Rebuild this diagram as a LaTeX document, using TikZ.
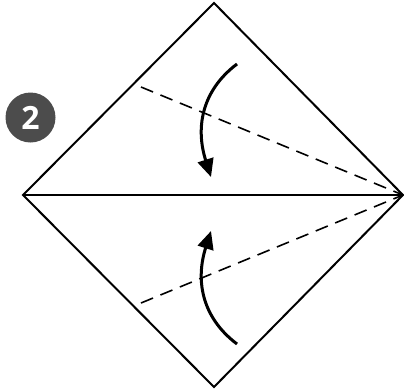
\documentclass[tikz,border=0pt]{standalone}
\usepackage{fontspec}
\setmainfont{Open Sans}
\usetikzlibrary{arrows.meta}
\begin{document}
\begin{tikzpicture}[x=1pt,y=-1pt,
  edge/.style={line width=2pt,line join=miter},
  foldline/.style={line width=1.6pt,dash pattern=on 13pt off 8pt},
  foldarrow/.style={line width=3pt,-{Triangle[length=18pt,width=16pt]}},
  badge/.style={circle,fill=black!70,minimum size=50pt,inner sep=0pt,text=white,font=\fontsize{32}{32}\selectfont\bfseries}]
\useasboundingbox (0,0) rectangle (404,391);
\coordinate (T) at (214,3);
\coordinate (L) at (23,195);
\coordinate (R) at (403,195);
\coordinate (B) at (214,387);
\coordinate (d1) at (141,87);
\coordinate (d2) at (141,303);
\coordinate (a1s) at (237,64);
\coordinate (a1e) at (211,177);
\coordinate (a2s) at (237,344);
\coordinate (a2e) at (211,231);
\draw[edge] (T) -- (R) -- (B) -- (L) -- cycle;
\draw[edge] (L) -- (R);
\draw[foldline] (d1) -- (R);
\draw[foldline] (d2) -- (R);
\draw[foldarrow] (a1s) .. controls (200,92) and (196,130) .. (a1e);
\draw[foldarrow] (a2s) .. controls (200,316) and (196,278) .. (a2e);
\node[badge] (n2) at (30.5,117.5) {2};
\end{tikzpicture}
\end{document}
